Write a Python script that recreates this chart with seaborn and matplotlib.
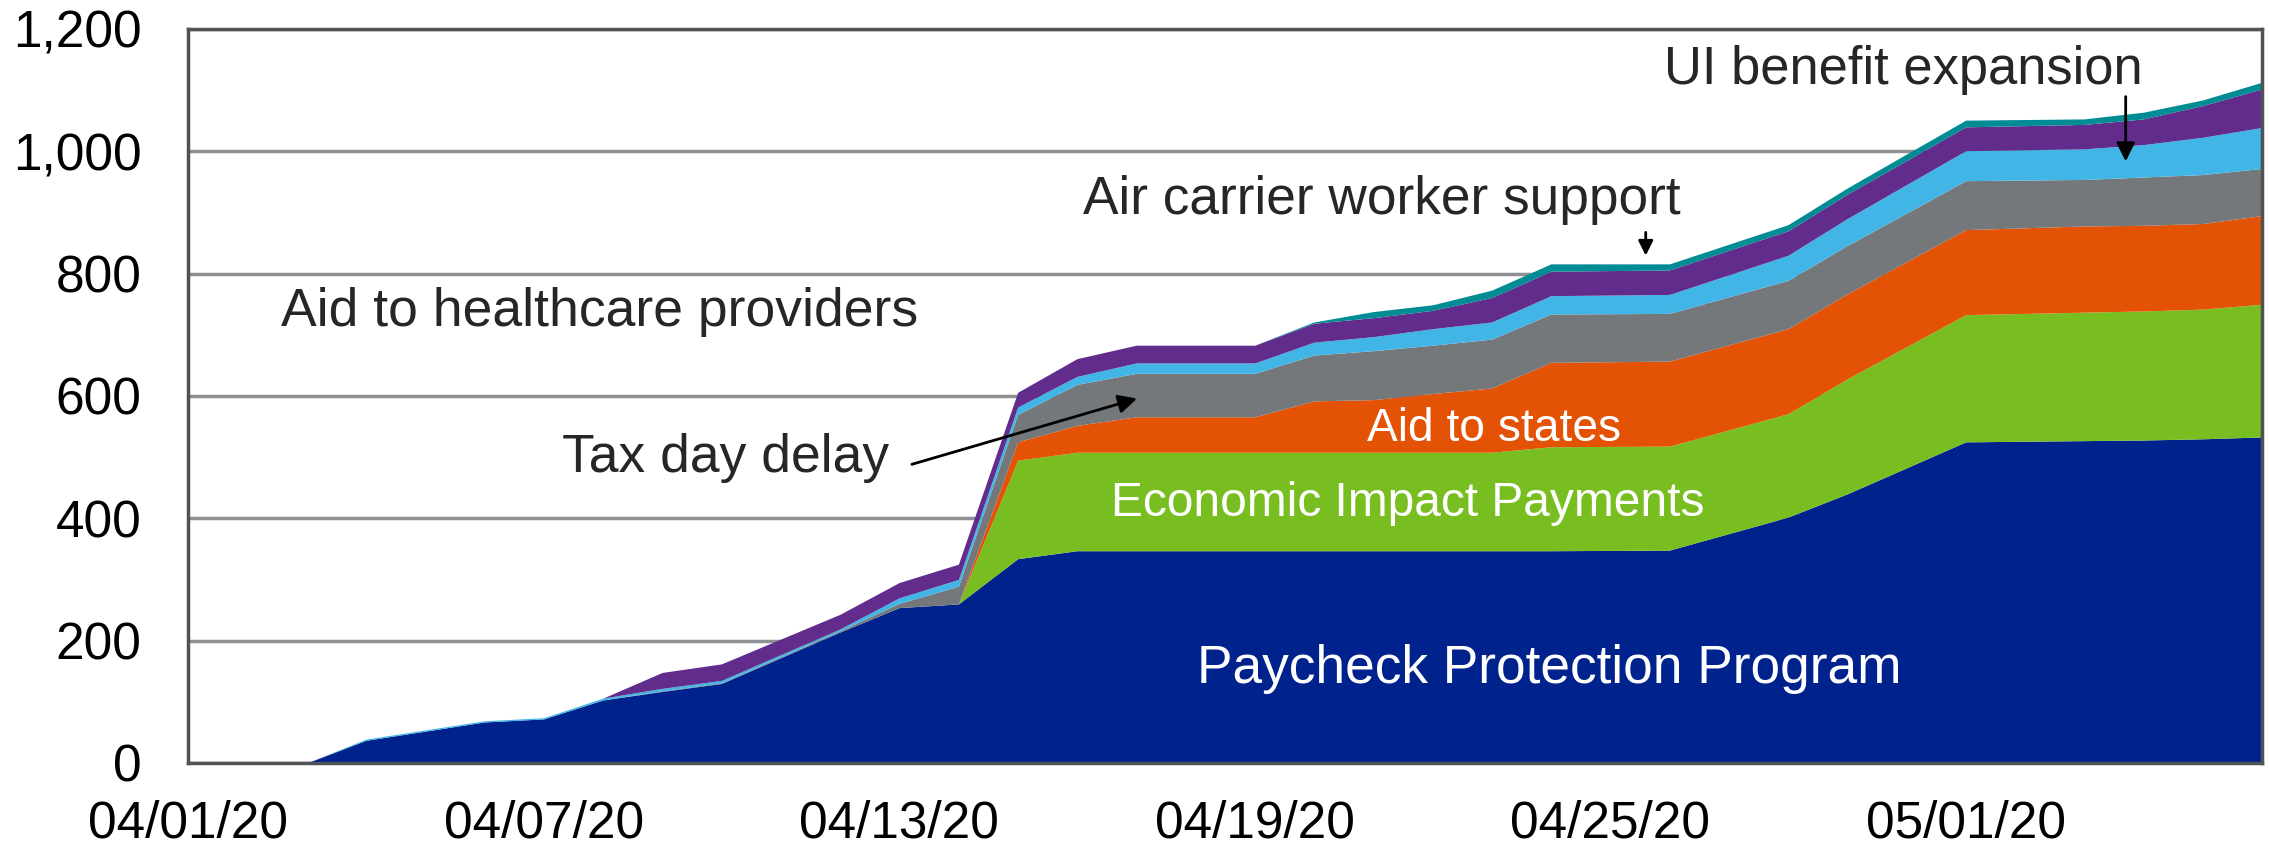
import pandas as pd
import matplotlib
matplotlib.use('Agg')
import matplotlib.pyplot as plt
import matplotlib.dates as mdates
import seaborn as sns

# cumulative fiscal support, $bn, stacked by program
dates = ['2020-04-01', '2020-04-03', '2020-04-04', '2020-04-06', '2020-04-07', '2020-04-08',
         '2020-04-09', '2020-04-10', '2020-04-12', '2020-04-13', '2020-04-14', '2020-04-15',
         '2020-04-16', '2020-04-17', '2020-04-19', '2020-04-20', '2020-04-21', '2020-04-22',
         '2020-04-23', '2020-04-24', '2020-04-26', '2020-04-28', '2020-04-29', '2020-05-01',
         '2020-05-03', '2020-05-04', '2020-05-05', '2020-05-06']
ppp = [0, 0, 37, 67, 72, 103, 117, 130, 214, 254, 260, 334, 347, 347, 347, 347, 347, 347,
       347, 347, 348, 402, 440, 525, 527, 528, 530, 533]
eip = [0, 0, 0, 0, 0, 0, 0, 0, 0, 0, 0, 161, 161, 161, 161, 161, 161, 161,
       161, 170, 170, 169, 188, 208, 210, 211, 212, 217]
states = [0, 0, 0, 0, 0, 0, 0, 0, 0, 0, 0, 30, 44, 58, 58, 84, 86, 96,
          105, 138, 139, 139, 139, 139, 141, 140, 140, 145]
tax_delay = [0, 0, 0, 0, 0, 0, 1, 1, 2, 7, 29, 45, 67, 71, 71, 75, 80, 79,
             80, 79, 78, 79, 79, 80, 76, 79, 80, 77]
ui = [0, 0, 2, 2, 2, 3, 4, 4, 3, 9, 11, 12, 13, 17, 17, 21, 23, 27,
      28, 30, 31, 41, 44, 49, 50, 53, 61, 67]
healthcare = [0, 0, 0, 0, 0, 0, 26, 27, 24, 25, 25, 24, 29, 29, 29, 31, 31, 30,
              40, 40, 40, 40, 40, 39, 40, 42, 52, 63]
air_carrier = [0, 0, 0, 0, 0, 0, 0, 0, 0, 0, 0, 0, 0, 0, 0, 2, 10, 9,
               12, 12, 10, 10, 10, 11, 9, 11, 9, 11]

xtick_dates = ['2020-04-01', '2020-04-07', '2020-04-13', '2020-04-19', '2020-04-25', '2020-05-01']
yticks = [0, 200, 400, 600, 800, 1000, 1200]

colors = ['#00228C', '#78BE20', '#E35205', '#75787B', '#41B6E6', '#612C8B', '#008C95']

sns.set_theme(style="white")
plt.rcParams['font.family'] = ['Liberation Sans', 'DejaVu Sans']

x = pd.to_datetime(dates)
fig = plt.figure(figsize=(22.69, 8.5), dpi=100)
ax = fig.add_axes([0.0829, 0.1024, 0.914, 0.8635])
ax.stackplot(x, ppp, eip, states, tax_delay, ui, healthcare, air_carrier,
             colors=sns.color_palette(colors), linewidth=0)

ax.set_xlim(x[0], x[-1])
ax.set_ylim(0, 1200)
ax.set_yticks(yticks)
ax.set_yticklabels([f'{v:,}' for v in yticks])
ax.set_xticks(pd.to_datetime(xtick_dates))
ax.xaxis.set_major_formatter(mdates.DateFormatter('%m/%d/%y'))
ax.tick_params(axis='both', labelsize=37, colors='#4A4A4A', labelcolor='black',
               direction='inout', length=23, width=2.5)
ax.tick_params(axis='x', pad=15)
ax.tick_params(axis='y', pad=22)
ax.yaxis.grid(True, color='#8E9093', lw=2.5)
ax.set_axisbelow(True)
for side in ['left', 'bottom', 'right', 'top']:
    ax.spines[side].set_color('#505356')
    ax.spines[side].set_linewidth(2.5)

t0 = mdates.date2num(x[0])

def d(day):
    return t0 + day

ax.text(d(1.57), 714, 'Aid to healthcare providers', fontsize=38.5, va='baseline')
ax.text(d(6.31), 475, 'Tax day delay', fontsize=38.4, va='baseline')
ax.annotate('', xy=(d(16.06), 597), xytext=(d(12.17), 487),
            arrowprops=dict(arrowstyle='-|>', color='black', lw=2, mutation_scale=28))
ax.text(d(15.11), 897, 'Air carrier worker support', fontsize=38.3, va='baseline')
ax.annotate('', xy=(d(24.6), 825), xytext=(d(24.6), 872),
            arrowprops=dict(arrowstyle='-|>', color='black', lw=2, mutation_scale=22))
ax.text(d(24.9), 1110, 'UI benefit expansion', fontsize=37.8, va='baseline')
ax.annotate('', xy=(d(32.7), 979), xytext=(d(32.7), 1094),
            arrowprops=dict(arrowstyle='-|>', color='black', lw=2, mutation_scale=28))
ax.text(d(19.89), 526, 'Aid to states', fontsize=33.2, va='baseline', color='white')
ax.text(d(15.58), 404, 'Economic Impact Payments', fontsize=34.5, va='baseline', color='white')
ax.text(d(17.02), 130, 'Paycheck Protection Program', fontsize=38.3, va='baseline', color='white')

fig.savefig('out.png', dpi=100)
